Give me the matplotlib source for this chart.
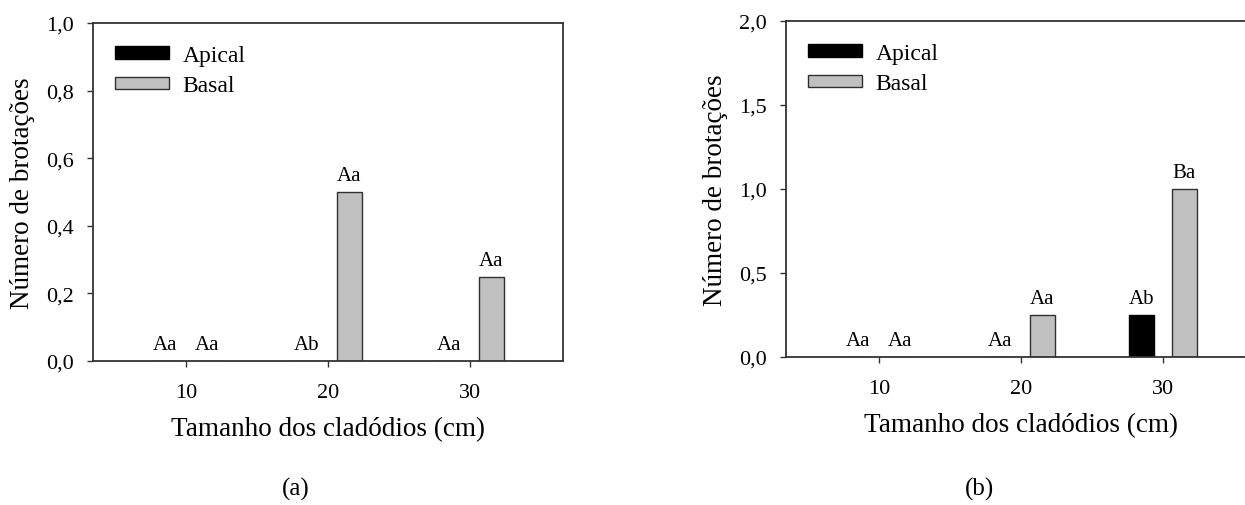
# Número de brotações por tamanho de cladódio (a) e (b)
import matplotlib.pyplot as plt
import numpy as np

plt.rcParams["font.family"] = ["Liberation Serif", "DejaVu Serif"]

# =========================
# Dados
# =========================
tamanhos = [10, 20, 30]
tick_labels = ["10", "20", "30"]

apical_a = [0.0, 0.0, 0.0]
basal_a = [0.0, 0.5, 0.25]
letras_apical_a = ["Aa", "Ab", "Aa"]
letras_basal_a = ["Aa", "Aa", "Aa"]

apical_b = [0.0, 0.0, 0.25]
basal_b = [0.0, 0.25, 1.0]
letras_apical_b = ["Aa", "Aa", "Ab"]
letras_basal_b = ["Aa", "Aa", "Ba"]

W, H = 1245, 506
fig = plt.figure(figsize=(W / 100, H / 100), dpi=100)

spine_color = "#333333"
gray = "#c0c0c0"


def painel(rect, apical, basal, let_ap, let_bs, ymax, yticks, ylabels):
    ax = fig.add_axes(rect)
    x = np.array(tamanhos, dtype=float)
    off, w = 1.5, 1.8
    ax.bar(x - off, apical, width=w, color="black", edgecolor="black",
           linewidth=1.0, label="Apical")
    ax.bar(x + off, basal, width=w, color=gray, edgecolor="#303030",
           linewidth=1.0, label="Basal")

    # letras de significância
    for xi, v, t in zip(x - off, apical, let_ap):
        ax.annotate(t, (xi, v), xytext=(0, 5), textcoords="offset points",
                    ha="center", va="bottom", fontsize=15)
    for xi, v, t in zip(x + off, basal, let_bs):
        ax.annotate(t, (xi, v), xytext=(0, 5), textcoords="offset points",
                    ha="center", va="bottom", fontsize=15)

    ax.set_xlim(3.45, 36.55)
    ax.set_ylim(0, ymax)
    ax.set_xticks(tamanhos)
    ax.set_xticklabels(tick_labels)
    ax.set_yticks(yticks)
    ax.set_yticklabels(ylabels)
    ax.tick_params(axis="both", labelsize=16, length=4, width=1,
                   color=spine_color)
    ax.tick_params(axis="x", pad=12)
    ax.tick_params(axis="y", pad=10)
    for s in ax.spines.values():
        s.set_color(spine_color)
        s.set_linewidth(1.3)

    ax.set_xlabel("Tamanho dos cladódios (cm)", fontsize=19.5, labelpad=10)
    ax.set_ylabel("Número de brotações", fontsize=19.5, labelpad=8)

    ax.legend(loc="upper left", bbox_to_anchor=(0.047, 0.935), frameon=False,
              fontsize=17, handlelength=2.3, handleheight=0.45,
              handletextpad=0.55, borderpad=0, borderaxespad=0,
              labelspacing=0.4)
    return ax


ax1 = painel([93 / W, (H - 362) / H, 470 / W, 338 / H],
             apical_a, basal_a, letras_apical_a, letras_basal_a,
             1.0, [0, 0.2, 0.4, 0.6, 0.8, 1.0],
             ["0,0", "0,2", "0,4", "0,6", "0,8", "1,0"])
ax2 = painel([786 / W, (H - 358) / H, 470 / W, 336 / H],
             apical_b, basal_b, letras_apical_b, letras_basal_b,
             2.0, [0, 0.5, 1.0, 1.5, 2.0],
             ["0,0", "0,5", "1,0", "1,5", "2,0"])

fig.text(296 / W, 1 - 489 / H, "(a)", ha="center", va="center", fontsize=18)
fig.text(979 / W, 1 - 489 / H, "(b)", ha="center", va="center", fontsize=18)

plt.savefig("out.png", dpi=100)
